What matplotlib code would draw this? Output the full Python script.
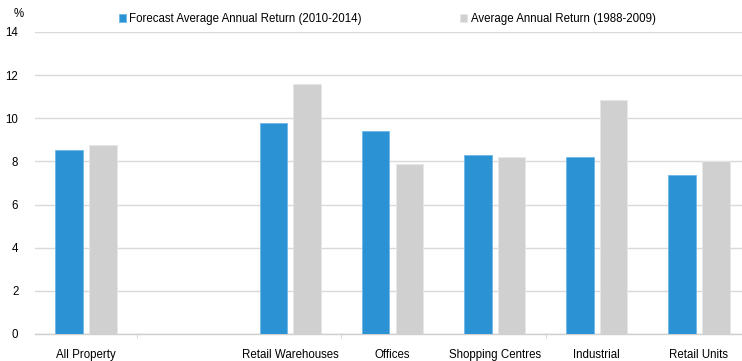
import matplotlib
matplotlib.use("Agg")
import matplotlib.pyplot as plt
import numpy as np

plt.rcParams['font.family'] = ['Liberation Sans', 'DejaVu Sans']

# sectors; the empty slot keeps the gap after All Property
categories = ["All Property", "", "Retail Warehouses", "Offices",
              "Shopping Centres", "Industrial", "Retail Units"]
forecast = [8.55, np.nan, 9.78, 9.39, 8.31, 8.20, 7.38]
historic = [8.74, np.nan, 11.60, 7.86, 8.20, 10.86, 8.01]
series_names = ["Forecast Average Annual Return (2010-2014)",
                "Average Annual Return (1988-2009)"]

blue = "#2b93d4"
grey = "#d0d0d0"

fig = plt.figure(figsize=(7.42, 3.61), dpi=100)
# plot area runs slightly past the right edge of the figure
ax = fig.add_axes([35 / 742, 1 - 334 / 361, 715 / 742, 302 / 361])

x = np.arange(len(categories))
w = 0.27
ax.bar(x - 0.165, forecast, w, color=blue, edgecolor="#6fb8e6", linewidth=0.6,
       label=series_names[0], zorder=3)
ax.bar(x + 0.165, historic, w, color=grey, edgecolor="#e6e6e6", linewidth=0.6,
       label=series_names[1], zorder=3)

ax.set_xlim(-0.5, len(categories) - 0.5)
ax.set_ylim(0, 14)
ax.set_yticks(np.arange(0, 15, 2))
ax.yaxis.grid(True, color="#d9d9d9", linewidth=1.0, zorder=0)

ax.set_xticks(x)
ax.set_xticklabels(categories)
# short marks on every second category boundary
ax.set_xticks([0.5, 2.5, 4.5], minor=True)
ax.tick_params(axis="x", which="major", length=0, pad=11, labelsize=8.3)
ax.tick_params(axis="x", which="minor", length=3, color="#d0d0d0", direction="out")
ax.tick_params(axis="y", length=0, pad=12, labelsize=8.3)

for side in ["top", "right", "left"]:
    ax.spines[side].set_visible(False)
ax.spines["bottom"].set_color("#cfcfcf")
ax.spines["bottom"].set_linewidth(1.0)

fig.text(14 / 742, 1 - 14 / 361, "%", fontsize=8.3, va="center", ha="left")

ax.legend(loc="center left", bbox_to_anchor=(119 / 742, 1 - 19 / 361),
          bbox_transform=fig.transFigure, ncol=2, frameon=False, fontsize=8.3,
          handlelength=0.6, handleheight=0.6, handletextpad=0.3,
          columnspacing=8.55, borderaxespad=0, borderpad=0)

fig.savefig("out.png", dpi=100)
